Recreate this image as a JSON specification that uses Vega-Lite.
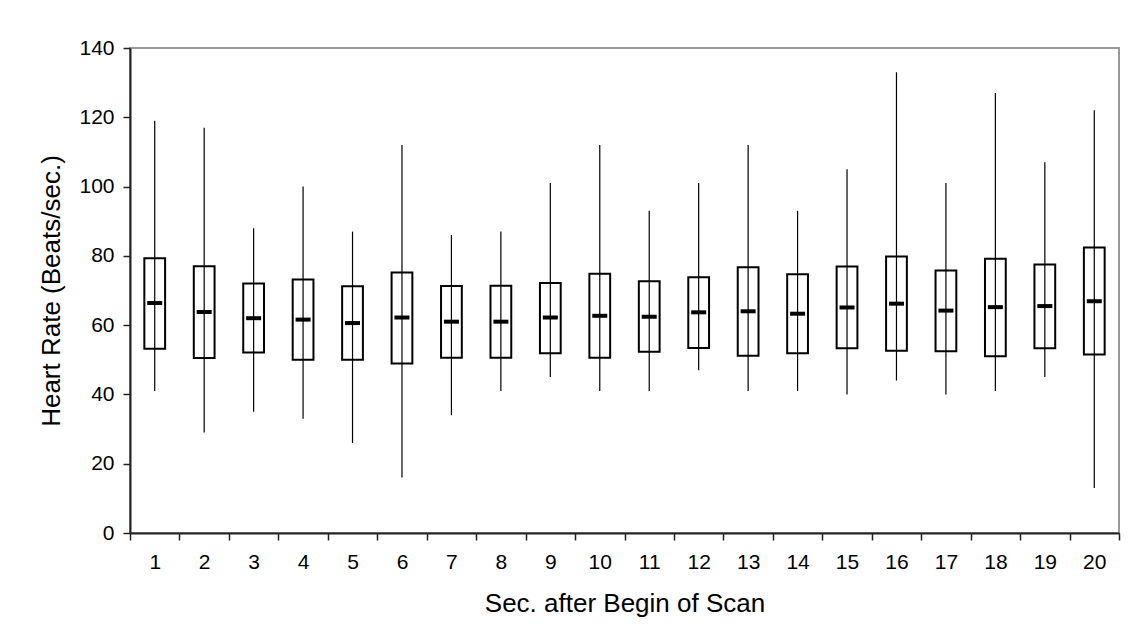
{
  "$schema": "https://vega.github.io/schema/vega-lite/v6.json",
  "width": 989,
  "height": 485,
  "autosize": {"type": "none"},
  "padding": {"left": 130, "top": 48, "right": 15, "bottom": 104},
  "background": "white",
  "config": {
    "font": "Liberation Sans",
    "view": {"stroke": "#999999", "strokeWidth": 2},
    "axis": {"grid": false, "domainColor": "#222222", "domainWidth": 2, "tickColor": "#222222", "tickWidth": 1.5, "labelColor": "black", "titleColor": "black", "labelFont": "Liberation Sans", "titleFont": "Liberation Sans", "titleFontWeight": "normal"}
  },
  "data": {
    "values": [
      {"sec": 1, "min": 41, "q1": 53.2, "median": 66.4, "q3": 79.3, "max": 119},
      {"sec": 2, "min": 29, "q1": 50.5, "median": 63.8, "q3": 77, "max": 117},
      {"sec": 3, "min": 35, "q1": 52.1, "median": 62, "q3": 72, "max": 88},
      {"sec": 4, "min": 33, "q1": 50, "median": 61.6, "q3": 73.2, "max": 100},
      {"sec": 5, "min": 26, "q1": 50, "median": 60.6, "q3": 71.2, "max": 87},
      {"sec": 6, "min": 16, "q1": 48.9, "median": 62.2, "q3": 75.2, "max": 112},
      {"sec": 7, "min": 34, "q1": 50.6, "median": 61, "q3": 71.3, "max": 86},
      {"sec": 8, "min": 41, "q1": 50.6, "median": 61, "q3": 71.4, "max": 87},
      {"sec": 9, "min": 45, "q1": 51.9, "median": 62.2, "q3": 72.2, "max": 101},
      {"sec": 10, "min": 41, "q1": 50.6, "median": 62.7, "q3": 74.8, "max": 112},
      {"sec": 11, "min": 41, "q1": 52.3, "median": 62.4, "q3": 72.7, "max": 93},
      {"sec": 12, "min": 47, "q1": 53.4, "median": 63.7, "q3": 73.8, "max": 101},
      {"sec": 13, "min": 41, "q1": 51.2, "median": 64, "q3": 76.7, "max": 112},
      {"sec": 14, "min": 41, "q1": 51.9, "median": 63.3, "q3": 74.7, "max": 93},
      {"sec": 15, "min": 40, "q1": 53.3, "median": 65.1, "q3": 76.9, "max": 105},
      {"sec": 16, "min": 44, "q1": 52.6, "median": 66.2, "q3": 79.8, "max": 133},
      {"sec": 17, "min": 40, "q1": 52.5, "median": 64.2, "q3": 75.8, "max": 101},
      {"sec": 18, "min": 41, "q1": 51, "median": 65.2, "q3": 79.2, "max": 127},
      {"sec": 19, "min": 45, "q1": 53.3, "median": 65.5, "q3": 77.5, "max": 107},
      {"sec": 20, "min": 13, "q1": 51.5, "median": 66.9, "q3": 82.4, "max": 122}
    ]
  },
  "encoding": {
    "x": {
      "field": "sec", "type": "ordinal",
      "scale": {"paddingInner": 0, "paddingOuter": 0},
      "axis": {"title": "Sec. after Begin of Scan", "labelAngle": 0, "tickBand": "extent", "tickSize": 7, "labelPadding": 11, "labelFontSize": 21, "titleFontSize": 26, "titlePadding": 18}
    }
  },
  "layer": [
    {
      "mark": {"type": "bar", "fill": "white", "stroke": "black", "strokeWidth": 2, "width": {"band": 0.42}},
      "encoding": {
        "y": {"field": "q1", "type": "quantitative", "scale": {"domain": [0, 140]},
          "axis": {"title": "Heart Rate (Beats/sec.)", "values": [0, 20, 40, 60, 80, 100, 120, 140], "tickSize": 7, "labelPadding": 9, "labelFontSize": 21, "titleFontSize": 26, "titlePadding": 14}},
        "y2": {"field": "q3"}
      }
    },
    {
      "mark": {"type": "rule", "color": "black", "strokeWidth": 1.2},
      "encoding": {
        "y": {"field": "min", "type": "quantitative"},
        "y2": {"field": "max"}
      }
    },
    {
      "mark": {"type": "tick", "color": "black", "opacity": 1, "thickness": 4, "size": 15},
      "encoding": {
        "y": {"field": "median", "type": "quantitative"}
      }
    }
  ]
}
